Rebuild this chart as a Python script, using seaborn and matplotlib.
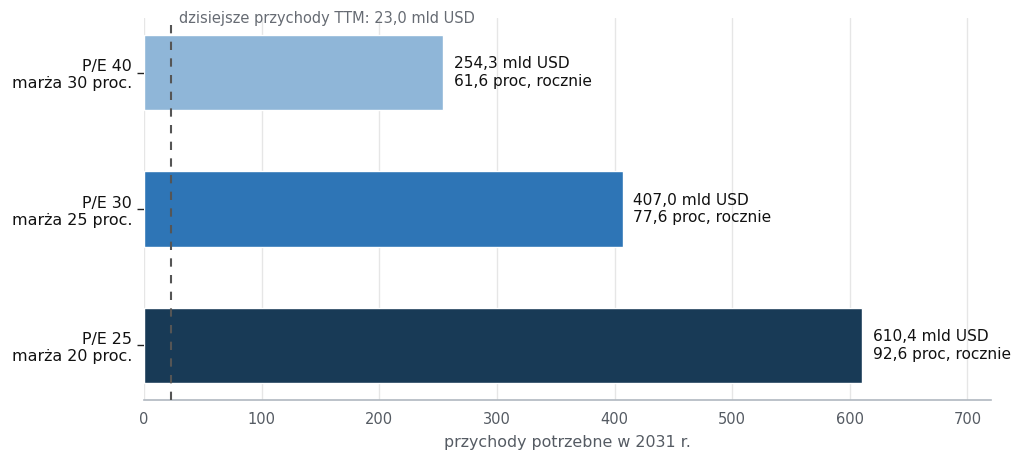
import matplotlib
matplotlib.use("Agg")
import matplotlib.pyplot as plt
import seaborn as sns
import pandas as pd

categories = ["P/E 40\nmarża 30 proc.", "P/E 30\nmarża 25 proc.", "P/E 25\nmarża 20 proc."]
revenues = [254.3, 407.0, 610.4]
growth = [61.6, 77.6, 92.6]
colors = ["#8fb6d8", "#2e75b6", "#183a56"]
today_rev = 23.0

sns.set_theme(style="whitegrid")
plt.rcParams['font.family'] = ['DejaVu Sans']

df = pd.DataFrame({"cat": categories, "rev": revenues})

fig = plt.figure(figsize=(10.24, 4.62), dpi=100)
ax = fig.add_axes([0.1406, 0.1342, 0.8272, 0.8268])
sns.barplot(data=df, y="cat", x="rev", hue="cat", palette=colors, orient="h",
            width=0.55, ax=ax, legend=False, saturation=1)

def fmt(v):
    return f"{v:.1f}".replace(".", ",")

for i, (r, g) in enumerate(zip(revenues, growth)):
    ax.text(r + 9, i, f"{fmt(r)} mld USD\n{fmt(g)} proc, rocznie", va="center", ha="left",
            fontsize=11.1, color="#111111", linespacing=1.2)

ax.axvline(today_rev, color="#555555", linestyle=(0, (4, 4)), linewidth=1.5, zorder=3)
ax.text(today_rev + 7, -0.4, f"dzisiejsze przychody TTM: {fmt(today_rev)} mld USD",
        ha="left", va="center", fontsize=10.5, color="#666b73")

ax.set_xlim(0, 720)
ax.set_ylim(2.4, -0.4)
ax.set_xticks(range(0, 701, 100))
ax.set_xlabel("przychody potrzebne w 2031 r.", fontsize=11.4, color="#555b63", labelpad=6)
ax.set_ylabel("")
ax.grid(axis="x", color="#e6e6e6", linewidth=1)
ax.grid(axis="y", visible=False)
ax.set_facecolor("white")
for s in ["left", "top", "right"]:
    ax.spines[s].set_visible(False)
ax.spines["bottom"].set_color("#b0b8c0")
ax.spines["bottom"].set_linewidth(1.2)
ax.tick_params(axis="x", colors="#555b63", labelsize=10.5, length=5, width=1, color="#b0b8c0")
ax.tick_params(axis="y", labelsize=11.4, length=5, width=1, color="#222222", labelcolor="#111111", left=True)
for lbl in ax.get_yticklabels():
    lbl.set_horizontalalignment("right")
    lbl.set_linespacing(1.2)

fig.savefig("out.png", dpi=100)
